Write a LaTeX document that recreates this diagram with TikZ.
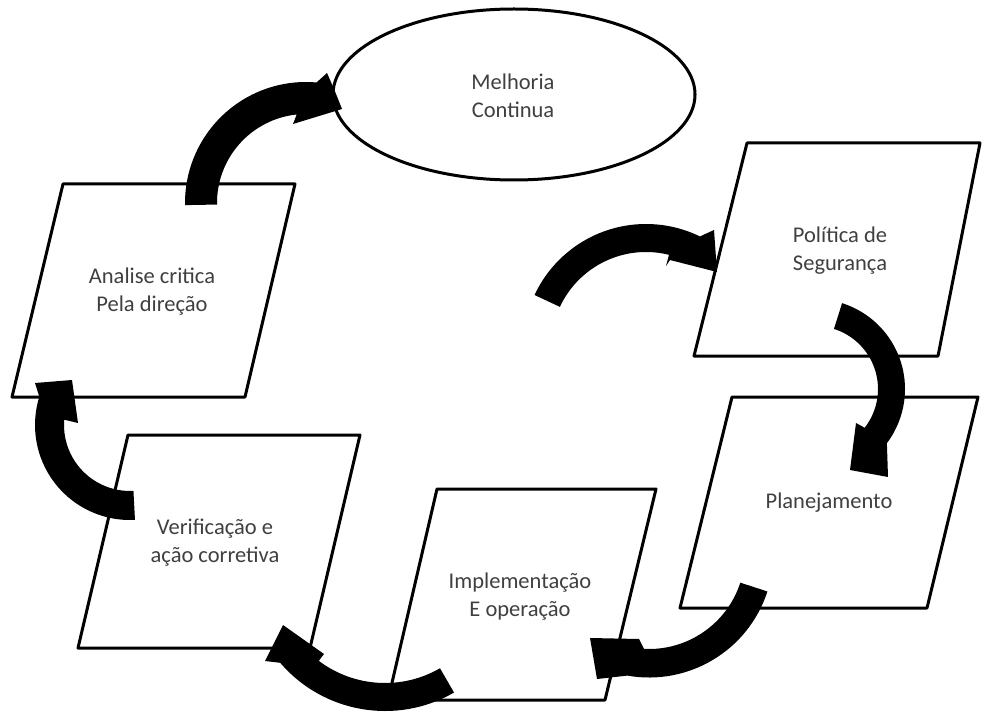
\documentclass[tikz,border=0pt]{standalone}
\usepackage{fontspec}
\setmainfont{Carlito}
\usetikzlibrary{calc,shapes.geometric}
\definecolor{txtgray}{HTML}{404040}
\begin{document}
\begin{tikzpicture}[x=1pt,y=1pt,
  box/.style={draw=black, line width=3pt, fill=white, line join=round},
  lbl/.style={text=txtgray, font=\fontsize{22.5}{28}\selectfont, align=center, inner sep=0pt},
  blockarrow/.style={fill=black}]
\useasboundingbox (0,0) rectangle (984,713);
\fill[white] (0,0) rectangle (984,713);

% Melhoria Continua (ellipse)
\node[ellipse, draw=black, line width=3pt, fill=white, minimum width=362pt, minimum height=171pt, inner sep=0pt] (melhoriaShape) at (514,618.5) {};
\node[lbl] (melhoria) at (513,617.5) {Melhoria\\Continua};

% Politica de Seguranca
\draw[box] (747,570) -- (980,570) -- (938,357) -- (694,357) -- cycle;
\node[lbl] (politica) at (840,462) {Política de\\Segurança};

% Planejamento
\draw[box] (732,316) -- (978,316) -- (927,105) -- (680,105) -- cycle;
\node[lbl] (planejamento) at (829,210) {Planejamento};

% Implementacao
\draw[box] (437,224) -- (656,224) -- (605,13) -- (388,13) -- cycle;
\node[lbl] (implementacao) at (520,116) {Implementação\\E operação};

% Verificacao
\draw[box] (128,278) -- (360,278) -- (310,65) -- (78,65) -- cycle;
\node[lbl] (verificacao) at (215,170) {Verificação e\\ação corretiva};

% Analise
\draw[box] (63,529) -- (295,529) -- (245,316) -- (12,316) -- cycle;
\node[lbl] (analise) at (152,421) {Analise critica\\Pela direção};

% Block arrows
% Analise -> Melhoria
\fill[blockarrow] ($(306,510)+(181:121pt)$) arc[start angle=181, end angle=85, radius=121pt]
  -- (327,640) -- (334,624) -- (342,604) -- (293,589)
  -- ($(306,510)+(96:89pt)$) arc[start angle=96, end angle=181, radius=89pt] -- cycle;
% Melhoria -> Politica
\fill[blockarrow] ($(646,366)+(155:123pt)$) arc[start angle=155, end angle=64, radius=123pt]
  -- (714,483) -- (717,441) -- (670,453) -- (666,447)
  -- ($(646,366)+(76:95pt)$) arc[start angle=76, end angle=155, radius=95pt] -- cycle;
% Politica -> Planejamento
\fill[blockarrow] ($(815,324)+(72.5:90pt)$) arc[start angle=72.5, end angle=-37, radius=90pt]
  -- (888,236) -- (850,243) -- (856,290)
  -- ($(815,324)+(-38:63pt)$) arc[start angle=-38, end angle=72.5, radius=63pt] -- cycle;
% Planejamento -> Implementacao
\fill[blockarrow] ($(649,160)+(-18:124.5pt)$) arc[start angle=-18, end angle=-100, radius=124.5pt]
  -- (597,34) -- (590,75) -- (639,74)
  -- ($(649,160)+(-93:96pt)$) arc[start angle=-93, end angle=-18, radius=96pt] -- cycle;
% Implementacao -> Verificacao
\fill[blockarrow] ($(385,140)+(-60:138pt)$) arc[start angle=-60, end angle=-139.4, radius=138pt]
  -- (265,52) -- (283,88) -- (324,59)
  -- ($(385,140)+(-127:110pt)$) arc[start angle=-127, end angle=-60, radius=110pt] -- cycle;
% Verificacao -> Analise
\fill[blockarrow] ($(130,288)+(-87:95pt)$) arc[start angle=-87, end angle=-197.3, radius=95pt]
  -- (35,330) -- (72,333) -- (78,290)
  -- ($(130,288)+(-184.6:66pt)$) arc[start angle=-184.6, end angle=-87, radius=66pt] -- cycle;
\end{tikzpicture}
\end{document}
